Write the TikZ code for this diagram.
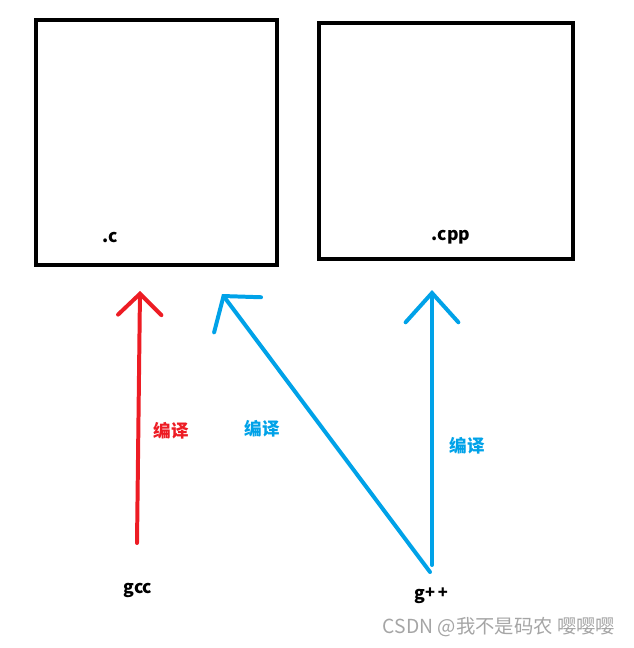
\documentclass[tikz,border=0pt]{standalone}
\usepackage{fontspec}
\setmainfont{Noto Sans CJK SC}
\usepackage{tikz}
\usetikzlibrary{arrows.meta}
\definecolor{paintred}{RGB}{237,28,36}
\definecolor{paintblue}{RGB}{0,162,232}
\definecolor{markgray}{RGB}{165,165,165}

\begin{document}
\begin{tikzpicture}[x=0.03cm, y=-0.03cm, font=\fontsize{15}{17}\selectfont\bfseries]
  \useasboundingbox (0,0) rectangle (633,648);
           \node[draw, line width=3.4pt, minimum width=241*0.03cm, minimum height=245*0.03cm, inner sep=0](cbox)  at (156.5,142.5) {};
           \node[draw, line width=3.4pt, minimum width=254*0.03cm, minimum height=236*0.03cm, inner sep=0](cppbox)  at (446,141) {};
      \node(c)  at (110,237) {.c};
      \node(cpp)  at (451,237) {.cpp};
      \node(gcc)  at (138,590) {gcc};
      \node(gpp)  at (431,596) {g\raisebox{1pt}{\fontsize{14}{16}\selectfont +\,+}};
      \node[text=paintred](redlabel)  at (171,431) {编译};
      \node[text=paintblue](bluelabel)  at (262,429) {编译};
      \node[text=paintblue](cpplabel)  at (467,446) {编译};
      \node[text=markgray, font=\fontsize{16.5}{18}\selectfont](mark)  at (499,627) {CSDN @我不是码农 嘤嘤嘤};
  \coordinate (redtail) at (137,543);
  \coordinate (redtip) at (140,291);
  \coordinate (crosstail) at (430,572);
  \coordinate (crosstip) at (222,294);
  \coordinate (cpptail) at (432,565);
  \coordinate (cpptip) at (432,290);
       \draw[-{Straight Barb[length=18pt, width=37pt, line cap=round]}, paintred, line width=3.4pt, line cap=round] (redtail) -- (redtip);
       \draw[-{Straight Barb[length=20pt, width=50pt, line cap=round]}, paintblue, line width=3.4pt, line cap=round] (crosstail) -- (crosstip);
        \draw[-{Straight Barb[length=25pt, width=45pt, line cap=round]}, paintblue, line width=3.4pt, line cap=round] (cpptail) -- (cpptip);
          \end{tikzpicture}
\end{document}
